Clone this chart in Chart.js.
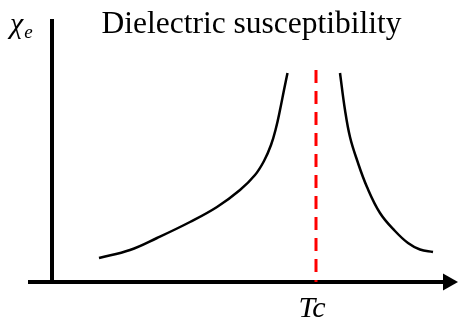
<!DOCTYPE html>
<html>
<head>
<meta charset="utf-8">
<script src="https://cdn.jsdelivr.net/npm/chart.js@4/dist/chart.umd.min.js"></script>
<style>
html,body{margin:0;padding:0;background:#fff;}
#wrap{width:458px;height:320px;position:relative;}
</style>
</head>
<body>
<div id="wrap"><canvas id="c" width="458" height="320"></canvas></div>
<script>
// ---- data ----
const belowTcX = [11.75, 19.5, 26.25, 34.5, 41.25, 47.0, 50.75, 53.0, 54.75, 56.0, 57.0, 58.0, 58.875];
const belowTcY = [9.13, 12.17, 16.73, 22.81, 28.52, 34.98, 40.68, 46.01, 52.09, 58.56, 65.4, 73.0, 79.47];
const aboveTcX = [72, 73.25, 74.5, 76.25, 78.75, 82, 85.75, 89, 92, 95.25];
const aboveTcY = [79.47, 65.4, 55.13, 46.39, 36.12, 26.24, 19.39, 14.83, 12.36, 11.41];
const tcValue = 66;
const tcLineY = [80.6, 0];
const xAxisRange = [-6, 101.5];
const yAxisTop = 100;
const titleText = 'Dielectric susceptibility';
const yLabelMain = 'χ';
const yLabelSub = 'e';
const xMarkLabel = 'Tc';

const toPts = (xs, ys) => xs.map((x, i) => ({x: x, y: ys[i]}));

const axesPlugin = {
  id: 'axesPlugin',
  beforeDatasetsDraw(chart) {
    const ctx = chart.ctx, xs = chart.scales.x, ys = chart.scales.y;
    const y0 = ys.getPixelForValue(0);
    const x0 = xs.getPixelForValue(0);
    const xl = xs.getPixelForValue(xAxisRange[0]);
    const xr = xs.getPixelForValue(xAxisRange[1]);
    ctx.save();
    ctx.strokeStyle = '#000';
    ctx.fillStyle = '#000';
    ctx.lineWidth = 4;
    // y axis
    ctx.beginPath();
    ctx.moveTo(x0, ys.getPixelForValue(yAxisTop));
    ctx.lineTo(x0, y0 + 2);
    ctx.stroke();
    // x axis
    ctx.beginPath();
    ctx.moveTo(xl, y0);
    ctx.lineTo(xr - 12, y0);
    ctx.stroke();
    // arrow head
    ctx.beginPath();
    ctx.moveTo(xr, y0);
    ctx.lineTo(xr - 15, y0 - 8.5);
    ctx.lineTo(xr - 15, y0 + 8.5);
    ctx.closePath();
    ctx.fill();
    ctx.restore();
  },
  afterDraw(chart) {
    const ctx = chart.ctx, xs = chart.scales.x, ys = chart.scales.y;
    const x0 = xs.getPixelForValue(0);
    const y0 = ys.getPixelForValue(0);
    ctx.save();
    ctx.fillStyle = '#000';
    ctx.textBaseline = 'alphabetic';
    // title
    ctx.font = '31.5px "Liberation Serif", "Times New Roman", serif';
    ctx.textAlign = 'center';
    ctx.fillText(titleText, 251.5, 33);
    // y label
    ctx.textAlign = 'left';
    ctx.font = 'italic 30px "Liberation Serif", "DejaVu Serif", "Times New Roman", serif';
    ctx.fillText(yLabelMain, x0 - 42, 33);
    const w = ctx.measureText(yLabelMain).width;
    ctx.font = 'italic 19px "Liberation Serif", "Times New Roman", serif';
    ctx.fillText(yLabelSub, x0 - 42 + w + 1, 38);
    // Tc label
    ctx.textAlign = 'center';
    ctx.font = 'italic 30px "Liberation Serif", "Times New Roman", serif';
    ctx.fillText(xMarkLabel, xs.getPixelForValue(tcValue) - 4, y0 + 35);
    ctx.restore();
  }
};

new Chart(document.getElementById('c'), {
  type: 'line',
  data: {
    datasets: [
      {
        data: toPts(belowTcX, belowTcY),
        borderColor: '#000', borderWidth: 2.5, pointRadius: 0,
        tension: 0.4, fill: false
      },
      {
        data: toPts(aboveTcX, aboveTcY),
        borderColor: '#000', borderWidth: 2.5, pointRadius: 0,
        tension: 0.4, fill: false
      },
      {
        data: toPts([tcValue, tcValue], tcLineY),
        borderColor: '#ff0000', borderWidth: 3, pointRadius: 0,
        borderDash: [13, 8], fill: false
      }
    ]
  },
  options: {
    responsive: false,
    animation: false,
    events: [],
    layout: { padding: { left: 52, right: 6, top: 19, bottom: 38 } },
    plugins: { legend: { display: false }, title: { display: false }, tooltip: { enabled: false } },
    scales: {
      x: { type: 'linear', min: 0, max: 100, display: false },
      y: { type: 'linear', min: 0, max: 100, display: false }
    }
  },
  plugins: [axesPlugin]
});
</script>
</body>
</html>
